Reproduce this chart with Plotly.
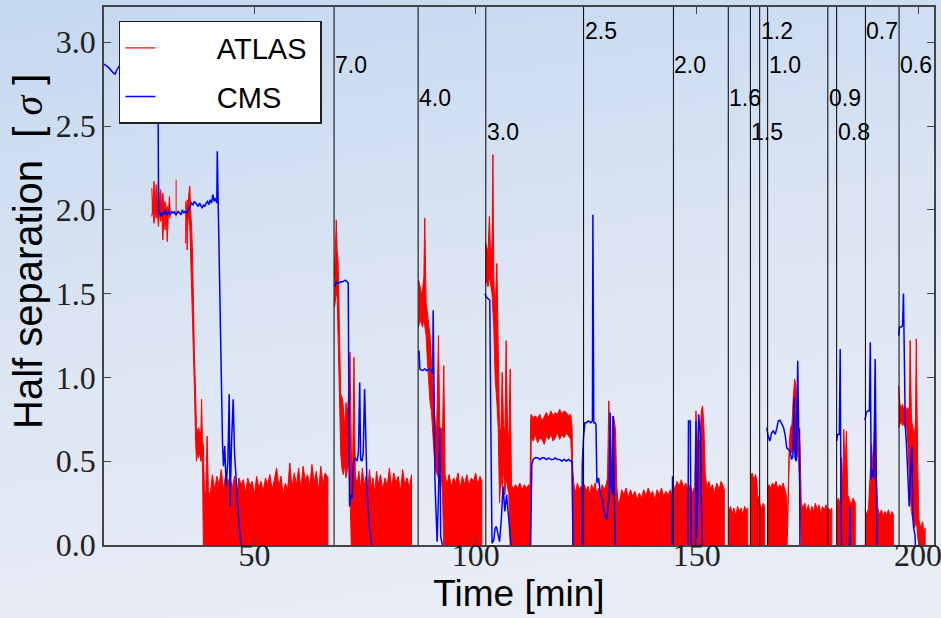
import base64
import plotly.graph_objects as go

# ---------------- data ----------------
# ATLAS: noisy trace, stored as contiguous segments with lower/upper envelope
atlas_t = [
    [26.8, 27.05, 27.3, 27.55, 27.8, 28.05, 28.3, 28.55, 28.8, 29.05, 29.3, 29.55, 29.8, 30.05, 30.3, 30.55, 30.8, 31.0],
    [32.3],
    [34.4, 34.6, 34.8, 35.0, 35.2, 35.4, 35.6, 35.8, 36.0, 36.2, 36.45, 36.7, 36.9, 37.15, 37.4, 37.65, 37.9, 38.05, 38.25, 38.45,
     38.7, 39.0, 39.3, 39.6, 40.0, 40.5, 41.0, 41.5, 42.0, 42.5, 43.0, 43.5, 44.0, 44.5, 45.0, 45.5, 46.0, 46.5, 47.0, 47.5,
     48.0, 48.5, 49.0, 49.5, 50.0, 50.5, 51.0, 51.5, 52.0, 52.5, 53.0, 53.5, 54.0, 54.5, 55.0, 55.5, 56.0, 56.5, 57.0, 57.5,
     58.0, 58.5, 59.0, 59.5, 60.0, 60.5, 61.0, 61.5, 62.0, 62.5, 63.0, 63.5, 64.0, 64.5, 65.0, 65.5, 66.0, 66.6],
    [68.1, 68.3, 68.5, 68.7, 68.9, 69.1, 69.3, 69.5, 69.8, 70.1, 70.4, 70.7, 71.0, 71.3, 71.6, 71.9, 72.2, 72.5, 72.8,
     73.2, 73.6, 74.0, 74.4, 74.8, 75.2, 75.6, 76.0, 76.4, 76.8, 77.2, 77.6, 78.0, 78.5, 79.0, 79.5, 80.0, 80.5, 81.0, 81.5,
     82.0, 82.5, 83.0, 83.5, 84.0, 84.5, 85.0, 85.5],
    [87.1, 87.4, 87.7, 88.0, 88.3, 88.5, 88.8, 89.1, 89.4, 89.7, 90.0, 90.3, 90.6, 90.9, 91.2, 91.6, 91.9, 92.2, 92.5, 92.8, 93.1,
     93.5, 94.0, 94.5, 95.0, 95.5, 96.0, 96.5, 97.0, 97.5, 98.0, 98.5, 99.0, 99.5, 100.0, 100.5, 101.0, 101.4],
    [102.2, 102.5, 102.8, 103.1, 103.4, 103.7, 103.9, 104.1, 104.4, 104.8, 105.1, 105.4, 105.7, 106.0, 106.3, 106.6, 106.9, 107.2, 107.5, 107.8, 108.1,
     108.5, 109.0, 109.5, 110.0, 110.5, 111.0, 111.5, 112.0, 112.3,
     112.45, 112.55, 113.0, 113.5, 114.0, 114.5, 115.0, 115.5, 116.0, 116.5, 117.0, 117.5, 118.0, 118.5, 119.0, 119.5, 120.0, 120.5, 121.0, 121.5, 121.8, 121.95,
     122.2, 122.6, 123.0, 123.4, 123.8, 124.2, 124.6, 125.0, 125.4, 125.8, 126.2, 126.6, 127.0, 127.4, 127.8, 128.2, 128.6, 129.0, 129.4, 129.8,
     130.1, 130.4, 130.7, 131.0, 131.3, 131.6, 131.9, 132.2, 132.6,
     133.0, 133.5, 134.0, 134.5, 135.0, 135.5, 136.0, 136.5, 137.0, 137.5, 138.0, 138.5, 139.0, 139.5, 140.0, 140.5, 141.0, 141.5, 142.0, 142.5, 143.0, 143.5, 144.0, 144.4],
    [144.7, 145.0, 145.5, 146.0, 146.5, 147.0, 147.5, 148.0, 148.5, 149.0, 149.5, 149.8, 150.1, 150.4, 150.7, 151.0, 151.3, 151.6, 151.9, 152.3,
     152.7, 153.1, 153.5, 154.0, 154.5, 155.0, 155.5, 156.0, 156.2],
    [157.2, 157.6, 158.0, 158.4, 158.8, 159.2, 159.6, 160.0, 160.4, 160.8, 161.2, 161.5],
    [162.1, 162.5, 162.9, 163.3, 163.6, 163.7, 164.0, 164.3, 164.7, 165.0, 165.3],
    [165.9, 166.3, 166.7, 167.1, 167.5, 167.9, 168.3, 168.7, 169.1, 169.5, 169.9, 170.2, 170.4,
     170.9, 171.2, 171.5, 171.8, 172.1, 172.4, 172.7, 173.0, 173.3, 173.6,
     174.0, 174.4, 174.8, 175.2, 175.6, 176.0, 176.4, 176.8, 177.2, 177.6, 178.0, 178.4, 178.8,
     179.2, 179.5, 179.8, 180.1, 180.5],
    [181.6, 182.0, 182.4, 182.7, 183.0, 183.2, 183.5, 183.8, 184.1, 184.5, 184.9, 185.3, 185.8],
    [188.0, 188.4, 188.8, 189.2, 189.5, 189.8, 190.1, 190.3, 190.6, 190.9, 191.3, 191.7, 192.1, 192.5, 192.9, 193.3, 193.7, 194.1, 194.4],
    [195.6, 195.9, 196.2, 196.5, 196.8, 197.1, 197.4, 197.7, 198.0, 198.2, 198.5, 198.8, 199.1, 199.4, 199.6, 199.9, 200.2, 200.6, 201.0, 201.3, 201.6],
]
atlas_hi = [
    [2.13, 2.00, 2.17, 2.02, 2.15, 2.01, 2.17, 2.03, 2.12, 2.00, 2.10, 2.00, 2.05, 2.00, 2.02, 1.99, 2.08, 1.99],
    [2.18],
    [2.05, 2.00, 2.06, 2.02, 2.10, 2.14, 1.98, 1.90, 1.74, 1.36, 1.12, 0.92, 0.70, 0.68, 0.70, 0.66, 0.68, 0.87, 0.62, 0.60,
     0.33, 0.30, 0.65, 0.32, 0.30, 0.42, 0.33, 0.41, 0.36, 0.45, 0.33, 0.42, 0.38, 0.40, 0.34, 0.41, 0.30, 0.40, 0.36, 0.39,
     0.31, 0.40, 0.35, 0.38, 0.30, 0.41, 0.34, 0.38, 0.32, 0.40, 0.36, 0.42, 0.33, 0.39, 0.46, 0.35, 0.41, 0.30, 0.37, 0.33,
     0.49, 0.34, 0.43, 0.36, 0.46, 0.33, 0.47, 0.38, 0.42, 0.35, 0.48, 0.37, 0.44, 0.32, 0.47, 0.36, 0.43, 0.40],
    [1.60, 1.80, 1.94, 1.75, 1.70, 1.45, 1.20, 0.90, 0.88, 0.82, 0.70, 0.85, 0.78, 0.90, 1.15, 0.55, 0.45, 1.12, 0.42,
     0.36, 0.44, 0.33, 0.46, 0.35, 0.41, 0.32, 0.45, 0.34, 0.40, 0.31, 0.44, 0.36, 0.42, 0.33, 0.40, 0.35, 0.46, 0.34, 0.43,
     0.37, 0.41, 0.32, 0.45, 0.36, 0.40, 0.34, 0.42],
    [1.58, 1.55, 1.50, 1.52, 1.60, 1.95, 1.45, 1.38, 1.32, 1.25, 1.10, 0.95, 0.85, 0.72, 0.70, 1.25, 0.68, 0.70, 0.65, 1.07, 0.42,
     0.36, 0.42, 0.35, 0.40, 0.37, 0.43, 0.34, 0.41, 0.36, 0.42, 0.35, 0.40, 0.38, 0.43, 0.36, 0.41, 0.38],
    [1.80, 1.78, 1.75, 1.96, 1.72, 1.78, 2.33, 1.60, 1.40, 1.68, 1.00, 0.70, 0.68, 1.03, 0.72, 0.66, 1.22, 0.70, 0.62, 1.05, 0.36,
     0.33, 0.36, 0.34, 0.37, 0.33, 0.36, 0.34, 0.36, 0.35,
     0.76, 0.78, 0.76, 0.77, 0.75, 0.78, 0.74, 0.77, 0.79, 0.76, 0.80, 0.77, 0.79, 0.78, 0.81, 0.78, 0.80, 0.79, 0.77, 0.78, 0.70, 0.45,
     0.36, 0.31, 0.37, 0.33, 0.35, 0.30, 0.36, 0.32, 0.35, 0.30, 0.36, 0.33, 0.37, 0.30, 0.34, 0.31, 0.36, 0.33, 0.35, 0.40,
     0.86, 0.55, 0.45, 0.77, 0.75, 0.69, 0.35, 0.25, 0.27,
     0.33, 0.30, 0.34, 0.28, 0.33, 0.29, 0.32, 0.27, 0.31, 0.28, 0.33, 0.29, 0.34, 0.30, 0.32, 0.27, 0.33, 0.30, 0.34, 0.29, 0.32, 0.30, 0.33, 0.30],
    [0.36, 0.33, 0.38, 0.35, 0.39, 0.34, 0.37, 0.33, 0.36, 0.31, 0.35, 0.80, 0.62, 0.60, 0.63, 0.80, 0.83, 0.70, 0.42, 0.34,
     0.38, 0.33, 0.36, 0.31, 0.37, 0.33, 0.38, 0.35, 0.33],
    [0.20, 0.23, 0.19, 0.22, 0.17, 0.23, 0.20, 0.22, 0.18, 0.23, 0.21, 0.22],
    [0.40, 0.43, 0.39, 0.42, 0.38, 0.30, 0.28, 0.24, 0.22, 0.25, 0.23],
    [0.33, 0.36, 0.34, 0.37, 0.35, 0.38, 0.33, 0.36, 0.34, 0.37, 0.33, 0.30, 0.05,
     0.62, 0.70, 0.72, 0.88, 0.99, 0.95, 0.72, 0.70, 0.60, 0.25,
     0.22, 0.25, 0.20, 0.24, 0.19, 0.23, 0.20, 0.25, 0.21, 0.24, 0.19, 0.23, 0.21,
     0.24, 0.20, 0.22, 0.20, 0.22],
    [0.25, 0.28, 0.24, 0.52, 0.35, 0.69, 0.45, 0.68, 0.30, 0.27, 0.24, 0.28, 0.25],
    [0.21, 0.18, 0.22, 0.40, 0.60, 0.45, 0.65, 0.81, 0.40, 0.22, 0.18, 0.21, 0.17, 0.20, 0.18, 0.21, 0.17, 0.20, 0.18],
    [0.95, 0.84, 0.82, 0.84, 0.80, 0.83, 0.80, 0.82, 0.78, 1.22, 0.75, 0.70, 0.65, 0.72, 1.23, 0.50, 0.15, 0.10, 0.14, 0.08, 0.10],
]
atlas_lo = [
    [1.96, 2.00, 1.92, 2.00, 1.95, 1.99, 1.90, 1.99, 1.93, 1.98, 1.82, 1.97, 1.88, 1.98, 1.81, 1.98, 1.95, 1.97],
    [1.96],
    [1.80, 1.98, 1.76, 1.97, 1.95, 1.90, 1.80, 1.55, 1.36, 1.14, 0.92, 0.62, 0.50, 0.55, 0.52, 0.56, 0.50, 0.55, 0.48, 0.00,
     0, 0, 0, 0, 0, 0, 0, 0, 0, 0, 0, 0, 0, 0, 0, 0, 0, 0, 0, 0,
     0, 0, 0, 0, 0, 0, 0, 0, 0, 0, 0, 0, 0, 0, 0, 0, 0, 0, 0, 0,
     0, 0, 0, 0, 0, 0, 0, 0, 0, 0, 0, 0, 0, 0, 0, 0, 0, 0],
    [1.42, 1.45, 1.50, 1.48, 1.40, 1.10, 0.80, 0.55, 0.45, 0.42, 0.48, 0.40, 0.45, 0.50, 0.30, 0.00, 0.00, 0.00, 0.00,
     0, 0, 0, 0, 0, 0, 0, 0, 0, 0, 0, 0, 0, 0, 0, 0, 0, 0, 0, 0,
     0, 0, 0, 0, 0, 0, 0, 0],
    [1.30, 1.35, 1.32, 1.30, 1.35, 1.30, 1.25, 1.10, 0.95, 0.85, 0.80, 0.70, 0.55, 0.45, 0.43, 0.40, 0.45, 0.43, 0.30, 0.00, 0.00,
     0, 0, 0, 0, 0, 0, 0, 0, 0, 0, 0, 0, 0, 0, 0, 0, 0],
    [1.55, 1.58, 1.54, 1.60, 1.55, 1.50, 1.45, 1.30, 1.00, 0.85, 0.70, 0.25, 0.40, 0.35, 0.45, 0.30, 0.40, 0.35, 0.30, 0.00, 0.00,
     0, 0, 0, 0, 0, 0, 0, 0, 0,
     0.00, 0.64, 0.62, 0.66, 0.61, 0.64, 0.63, 0.60, 0.65, 0.63, 0.66, 0.62, 0.64, 0.67, 0.63, 0.66, 0.64, 0.67, 0.65, 0.63, 0.45, 0.00,
     0, 0, 0, 0, 0, 0, 0, 0, 0, 0, 0, 0, 0, 0, 0, 0, 0, 0, 0, 0,
     0, 0, 0, 0, 0, 0, 0, 0, 0,
     0, 0, 0, 0, 0, 0, 0, 0, 0, 0, 0, 0, 0, 0, 0, 0, 0, 0, 0, 0, 0, 0, 0, 0],
    [0, 0, 0, 0, 0, 0, 0, 0, 0, 0, 0, 0, 0, 0, 0, 0, 0, 0, 0, 0,
     0, 0, 0, 0, 0, 0, 0, 0, 0],
    [0, 0, 0, 0, 0, 0, 0, 0, 0, 0, 0, 0],
    [0, 0, 0, 0, 0, 0, 0, 0, 0, 0, 0],
    [0, 0, 0, 0, 0, 0, 0, 0, 0, 0, 0, 0, 0,
     0.55, 0.57, 0.55, 0.58, 0.55, 0.60, 0.56, 0.50, 0.30, 0.00,
     0, 0, 0, 0, 0, 0, 0, 0, 0, 0, 0, 0, 0,
     0, 0, 0, 0, 0],
    [0, 0, 0, 0, 0, 0, 0, 0, 0, 0, 0, 0, 0],
    [0, 0, 0, 0, 0, 0, 0, 0, 0, 0, 0, 0, 0, 0, 0, 0, 0, 0, 0],
    [0.70, 0.72, 0.74, 0.71, 0.73, 0.70, 0.72, 0.60, 0.45, 0.30, 0.20, 0.15, 0.10, 0.12, 0.15, 0.05, 0.00, 0.00, 0.00, 0.00, 0.00],
]

# CMS: line trace, stored as contiguous segments
cms_t = [
    [16.0, 17.0, 18.0, 18.5, 19.0, 19.5, 22.0, 25.0, 28.0, 28.2, 28.35,
     28.6, 28.9, 29.2, 29.5, 29.8, 30.1, 30.4, 30.7, 31.0, 31.3, 31.6, 31.9, 32.2, 32.5, 32.8, 33.1, 33.4, 33.7, 34.0, 34.3,
     34.6, 34.9, 35.2, 35.5, 35.8, 36.1, 36.4, 36.7, 37.0, 37.3, 37.6, 37.9, 38.2, 38.5, 38.8, 39.1, 39.4, 39.7, 40.0, 40.3,
     40.6, 40.9, 41.2, 41.5,
     41.6, 41.8, 42.0, 42.2, 42.5, 42.8, 43.0, 43.3, 43.6, 44.0, 44.3, 44.5, 44.8, 45.2, 45.5, 45.8, 46.2, 46.6, 47.0],
    [68.2, 68.5, 69.0, 69.5, 70.0, 70.5, 71.0, 71.2, 71.4, 71.5, 71.8, 72.1, 72.4, 72.8, 73.2, 73.5, 73.8, 74.0, 74.3, 74.6,
     74.9, 75.2, 75.5, 76.0, 76.5],
    [87.2, 87.4, 88.0, 88.5, 89.0, 89.5, 90.0, 90.3, 90.4, 90.6, 90.8, 91.0, 91.3, 91.6, 91.9, 92.1, 92.5],
    [102.1, 102.4, 102.8, 103.2, 103.4, 103.7, 104.1, 104.4, 104.7, 105.0, 105.4, 105.8, 106.2, 106.6, 107.0, 107.5, 108.0],
    [112.4, 112.7, 113.0, 113.5, 114.0, 114.5, 115.0, 115.5, 116.0, 116.5, 117.0, 117.5, 118.0, 118.5, 119.0, 119.5, 120.0,
     120.5, 121.0, 121.5, 121.8, 122.0],
    [124.0, 124.1, 124.4, 124.7, 125.0, 125.5, 126.0, 126.4, 126.5, 126.7, 127.0, 127.2, 127.4, 127.8, 128.2, 128.6, 129.0,
     129.6, 130.2, 130.4, 130.6, 131.0, 131.1, 131.3, 131.5],
    [144.4, 144.5, 144.6],
    [148.0, 148.1, 148.5, 148.6, 148.7],
    [149.7, 149.8, 149.9, 150.2, 150.4, 150.8, 151.0, 151.2],
    [165.8, 166.1, 166.5, 166.9, 167.3, 167.7, 168.1, 168.4, 168.8, 169.2, 169.6, 170.0, 170.3, 170.7, 171.1, 171.4, 171.7,
     172.0, 172.2, 172.5, 172.8, 173.0, 173.2, 173.3],
    [181.6, 181.8, 182.2, 182.4, 182.55, 182.7],
    [184.5, 184.6, 184.7],
    [188.0, 188.3, 188.6, 189.0, 189.2, 189.4, 189.7, 190.0, 190.3, 190.5, 190.7],
    [195.6, 195.8, 196.2, 196.5, 196.7, 196.9, 197.1, 197.4, 197.8, 198.0, 198.3, 198.6, 198.8, 199.0, 199.3, 199.4],
]
cms_v = [
    [2.87, 2.85, 2.82, 2.81, 2.84, 2.86, 2.86, 2.86, 2.86, 2.70, 1.97,
     1.99, 1.96, 1.98, 1.97, 2.00, 1.97, 1.98, 1.99, 1.97, 1.99, 1.98, 1.99, 1.97, 1.98, 1.99, 1.98, 1.97, 2.00, 1.98, 1.99,
     1.98, 1.99, 2.01, 2.03, 2.04, 2.03, 2.05, 2.04, 2.03, 2.02, 2.04, 2.02, 2.01, 2.03, 2.02, 2.04, 2.05, 2.03, 2.06, 2.04,
     2.09, 2.05, 2.07, 2.04,
     2.35, 2.05, 1.74, 1.40, 1.00, 0.60, 0.47, 0.59, 0.35, 0.50, 0.90, 0.23, 0.59, 0.87, 0.55, 0.40, 0.25, 0.10, 0.00],
    [1.54, 1.57, 1.56, 1.57, 1.57, 1.58, 1.57, 1.56, 0.60, 0.23, 0.30, 0.28, 0.50, 0.52, 0.50, 0.55, 0.97, 0.51, 0.50, 0.55,
     0.93, 0.55, 0.30, 0.10, 0.00],
    [1.16, 1.05, 1.04, 1.05, 1.04, 1.05, 1.04, 1.02, 1.40, 0.84, 0.40, 0.23, 0.02, 0.30, 0.70, 0.05, 0.00],
    [1.50, 1.48, 1.47, 1.46, 0.80, 0.01, 0.03, 0.10, 0.11, 0.06, 0.02, 0.15, 0.35, 0.20, 0.30, 0.15, 0.00],
    [0.00, 0.48, 0.51, 0.52, 0.52, 0.51, 0.52, 0.52, 0.51, 0.52, 0.51, 0.51, 0.52, 0.51, 0.51, 0.50, 0.51,
     0.50, 0.51, 0.50, 0.50, 0.00],
    [0.00, 0.48, 0.65, 0.73, 0.73, 0.74, 0.73, 0.74, 1.97, 0.73, 0.73, 0.72, 0.37, 0.40, 0.30, 0.28, 0.20,
     0.15, 0.30, 0.79, 0.35, 0.30, 0.77, 0.30, 0.00],
    [0.00, 0.41, 0.00],
    [0.00, 0.74, 0.74, 0.29, 0.00],
    [0.00, 0.74, 0.00, 0.30, 0.78, 0.66, 0.28, 0.00],
    [0.70, 0.65, 0.62, 0.67, 0.68, 0.66, 0.70, 0.74, 0.745, 0.72, 0.70, 0.65, 0.58, 0.57, 0.56, 0.51, 0.53,
     0.88, 0.52, 0.50, 1.10, 0.69, 0.69, 0.00],
    [0.62, 0.66, 0.66, 1.17, 0.40, 0.00],
    [0.00, 0.23, 0.00],
    [0.745, 0.79, 0.80, 0.80, 1.21, 0.39, 0.45, 0.40, 1.11, 0.21, 0.00],
    [1.25, 1.30, 1.30, 1.31, 1.50, 0.95, 0.72, 0.59, 0.27, 0.23, 0.45, 0.59, 0.20, 0.10, 0.06, 0.00],
]

# beta* change markers
vline_t = [68.0, 87.0, 102.3, 124.4, 144.7, 157.1, 162.1, 164.2, 166.0, 179.6, 181.6, 188.1, 195.7]
vline_label = ["7.0", "4.0", "3.0", "2.5", "2.0", "1.6", "1.5", "1.2", "1.0", "0.9", "0.8", "0.7", "0.6"]
vline_label_y = [2.8, 2.6, 2.4, 3.0, 2.8, 2.6, 2.4, 3.0, 2.8, 2.6, 2.4, 3.0, 2.8]

x_ticks = [50, 100, 150, 200]
x_ticklabels = ["50", "100", "150", "200"]
y_ticks = [0.0, 0.5, 1.0, 1.5, 2.0, 2.5, 3.0]
y_ticklabels = ["0.0", "0.5", "1.0", "1.5", "2.0", "2.5", "3.0"]

# ---------------- build traces ----------------
band_x, band_y = [], []
for ts, los, his in zip(atlas_t, atlas_lo, atlas_hi):
    n = min(len(ts), len(los), len(his))
    if n != len(ts) or n != len(los) or n != len(his):
        print("length mismatch", ts[0], len(ts), len(los), len(his))
    ts, los, his = ts[:n], los[:n], his[:n]
    band_x += ts + ts[::-1] + [None]
    band_y += his + los[::-1] + [None]

line_x, line_y = [], []
for ts, vs in zip(cms_t, cms_v):
    n = min(len(ts), len(vs))
    if n != len(ts) or n != len(vs):
        print("cms length mismatch", ts[0], len(ts), len(vs))
    line_x += ts[:n] + [None]
    line_y += vs[:n] + [None]

RED = "#ff0000"
BLUE = "#0000ff"
NB = "\u00a0"

fig = go.Figure()
fig.add_trace(go.Scatter(
    x=band_x, y=band_y, mode="lines", fill="toself", fillcolor=RED,
    line=dict(color=RED, width=1), showlegend=False, hoverinfo="skip",
    legendgroup="atlas",
))
fig.add_trace(go.Scatter(
    x=[None], y=[None], mode="lines", name=NB * 7 + "ATLAS" + NB,
    line=dict(color=RED, width=1.2), legendgroup="atlas",
))
fig.add_trace(go.Scatter(
    x=line_x, y=line_y, mode="lines", name=NB * 7 + "CMS",
    line=dict(color=BLUE, width=1.5), connectgaps=False, legendgroup="cms",
))

# page geometry: figure is a bit wider than the 941 px window so the last
# tick label is not hidden; the plot area itself spans px 104..934.
H = 618
W = 960
L, T, B = 104, 7, 73
PW = 830
R = W - L - PW
pw, ph = PW, H - T - B

shapes = []
annotations = []
for t, lab, ly in zip(vline_t, vline_label, vline_label_y):
    shapes.append(dict(type="line", xref="x", yref="paper", x0=t, x1=t, y0=0, y1=1,
                       line=dict(color="black", width=1), layer="above"))
    annotations.append(dict(x=t, y=ly, xref="x", yref="y", text=lab, showarrow=False,
                            xanchor="left", yanchor="bottom", yshift=-3, borderpad=0,
                            font=dict(family="Liberation Sans", size=23, color="black")))

# y-axis title placed as rotated text left of the tick labels
annotations.append(dict(
    xref="paper", yref="paper", x=(28 - L) / pw, y=1 - (252 - T) / ph,
    xanchor="center", yanchor="middle", textangle=-90, showarrow=False,
    text="Half separation " + NB + "[" + NB
         + "<span style=\"font-family:Liberation Serif\"><i>σ</i></span>" + NB + "]",
    font=dict(family="Liberation Sans", size=40, color="black")))

# gradient page background
svg = (f'<svg xmlns="http://www.w3.org/2000/svg" width="{W}" height="{H}">'
       '<defs><linearGradient id="g" x1="0" y1="0" x2="0.25" y2="1">'
       '<stop offset="0" stop-color="#c4d8f1"/><stop offset="0.55" stop-color="#dce5f3"/>'
       '<stop offset="1" stop-color="#e8ecf6"/></linearGradient></defs>'
       f'<rect width="{W}" height="{H}" fill="url(#g)"/></svg>')
src = "data:image/svg+xml;base64," + base64.b64encode(svg.encode()).decode()

axis_common = dict(showline=True, linecolor="#444444", linewidth=1.5, mirror="ticks",
                   ticks="inside", ticklen=7, tickwidth=1, tickcolor="#444444",
                   showgrid=False, zeroline=False, automargin=False,
                   tickfont=dict(family="Liberation Serif", size=32, color="#222222"))

fig.update_layout(
    width=W, height=H,
    margin=dict(l=L, r=R, t=T, b=B, pad=0),
    paper_bgcolor="#dae3f2", plot_bgcolor="white",
    images=[dict(source=src, xref="paper", yref="paper", x=-L / pw, y=1 + T / ph,
                 sizex=W / pw, sizey=H / ph, xanchor="left", yanchor="top",
                 sizing="stretch", layer="below")],
    shapes=shapes, annotations=annotations,
    xaxis=dict(range=[16, 203.6], tickvals=x_ticks, ticktext=x_ticklabels,
               ticklabelstandoff=-19,
               title=dict(text="Time [min]", standoff=0,
                          font=dict(family="Liberation Sans", size=37, color="black")),
               **axis_common),
    yaxis=dict(range=[0, 3.21], tickvals=y_ticks, ticktext=y_ticklabels,
               **axis_common),
    legend=dict(x=0.018, y=0.974, xanchor="left", yanchor="top", bgcolor="white",
                bordercolor="#222222", borderwidth=1.5, tracegroupgap=8,
                font=dict(family="Liberation Sans", size=29, color="black")),
    showlegend=True,
)

fig.write_html("out.html", config={"displayModeBar": False},
               post_script="document.body.style.margin='0px';document.body.style.overflow='hidden';")
